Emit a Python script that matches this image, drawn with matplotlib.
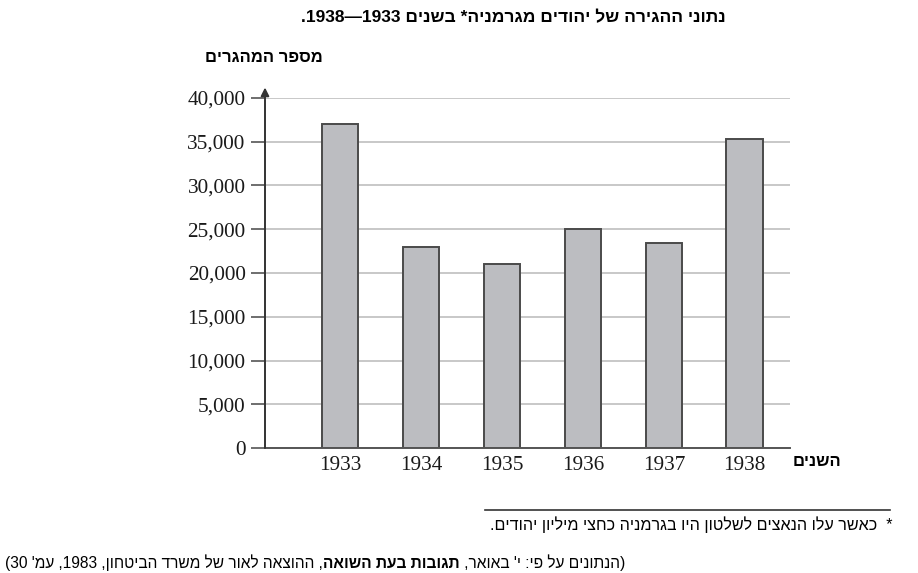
import matplotlib
matplotlib.use("Agg")
import matplotlib.pyplot as plt
from matplotlib.offsetbox import TextArea, HPacker, AnchoredOffsetbox
import re

years = ["1933", "1934", "1935", "1936", "1937", "1938"]
emigrants = [37000, 23000, 21000, 25000, 23400, 35300]
y_ticks = [0, 5000, 10000, 15000, 20000, 25000, 30000, 35000, 40000]
y_tick_labels = ["0", "5,000", "10,000", "15,000", "20,000", "25,000", "30,000", "35,000", "40,000"]

title = "נתוני ההגירה של יהודים מגרמניה* בשנים 1933—1938."
ylabel = "מספר המהגרים"
xlabel = "השנים"
footnote = "*  כאשר עלו הנאצים לשלטון היו בגרמניה כחצי מיליון יהודים."
source_parts = [("(הנתונים על פי: י' באואר, ", "normal"),
                ("תגובות בעת השואה", "bold"),
                (", ההוצאה לאור של משרד הביטחון, 1983, עמ' 30)", "normal")]


def rtl(s):
    r = s[::-1]
    r = re.sub(r"\d+", lambda m: m.group(0)[::-1], r)
    r = r.translate(str.maketrans("()", ")("))
    return r


SANS = ["Liberation Sans", "DejaVu Sans"]
SERIF = ["Liberation Serif", "DejaVu Serif"]

fig = plt.figure(figsize=(9.18, 5.73), dpi=100)
ax = fig.add_axes([265 / 918, 125 / 573, (790 - 265) / 918, 350 / 573])

x = list(range(len(years)))
ax.bar(x, emigrants, width=0.45, color="#bcbdc1", edgecolor="#4a4a4a", linewidth=1.4, zorder=3)
ax.set_xlim(-0.93, 5.56)
ax.set_ylim(0, 40000)
ax.set_yticks(y_ticks)
ax.set_yticklabels(y_tick_labels, fontfamily=SERIF, fontsize=15.3, color="#1a1a1a")
ax.set_xticks(x)
ax.set_xticklabels(years, fontfamily=SERIF, fontsize=15.3, color="#1a1a1a")
ax.tick_params(axis="x", length=0, pad=6)
ax.tick_params(axis="y", length=10, width=1.2, color="#555555", pad=4)
ax.grid(axis="y", color="#c4c4c4", linewidth=1.3, zorder=0)
for s in ["top", "right", "left"]:
    ax.spines[s].set_visible(False)
ax.spines["bottom"].set_color("#555555")
ax.spines["bottom"].set_linewidth(1.4)
ax.spines["bottom"].set_zorder(4)

# y axis with arrow
ax.annotate("", xy=(0, 1.03), xytext=(0, 0), xycoords="axes fraction",
            textcoords="axes fraction",
            arrowprops=dict(arrowstyle="-|>", color="#333333", lw=1.4,
                            mutation_scale=12, shrinkA=0, shrinkB=0),
            annotation_clip=False, zorder=5)

fig.text(726 / 918, 1 - 18 / 573, rtl(title), ha="right", va="center",
         fontfamily=SANS, fontweight="bold", fontsize=12.5)
fig.text(264 / 918, 1 - 57 / 573, rtl(ylabel), ha="center", va="center",
         fontfamily=SANS, fontweight="bold", fontsize=12)
fig.text(793 / 918, 1 - 462 / 573, rtl(xlabel), ha="left", va="center",
         fontfamily=SANS, fontweight="bold", fontsize=12)

# footnote rule
fig.add_artist(plt.Line2D([485 / 918, 890 / 918], [1 - 510 / 573, 1 - 510 / 573],
                          color="#333333", linewidth=1.2))
fig.text(892 / 918, 1 - 525 / 573, rtl(footnote), ha="right", va="center",
         fontfamily=SANS, fontsize=11.6)

boxes = []
for txt, w in reversed(source_parts):
    boxes.append(TextArea(rtl(txt), textprops=dict(fontfamily=SANS, fontweight=w,
                                                    fontsize=11.2, color="black")))
pack = HPacker(children=boxes, align="baseline", pad=0, sep=0)
ab = AnchoredOffsetbox(loc="center left", child=pack, pad=0, frameon=False,
                       bbox_to_anchor=(5 / 918, 1 - 563 / 573),
                       bbox_transform=fig.transFigure, borderpad=0)
fig.add_artist(ab)

fig.savefig("out.png", dpi=100)
